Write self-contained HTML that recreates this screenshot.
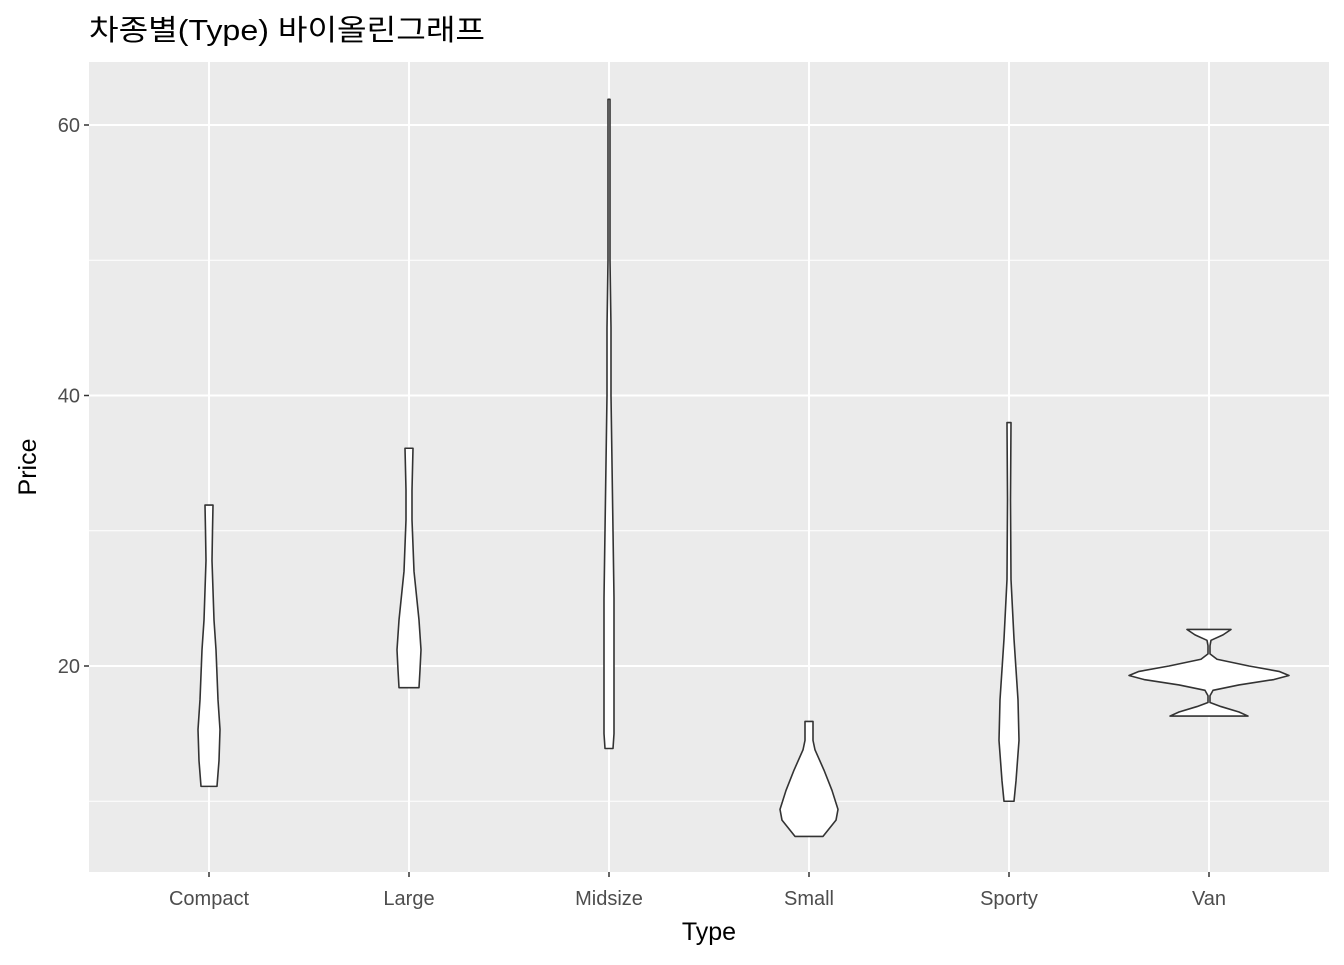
<!DOCTYPE html>
<html><head><meta charset="utf-8"><style>
body{margin:0;background:#fff}
svg text{font-family:"Liberation Sans","Noto Sans CJK KR",sans-serif}
</style></head><body>
<svg id="c" width="1344" height="960" xmlns="http://www.w3.org/2000/svg"></svg>
<script>
const categories=["Compact","Large","Midsize","Small","Sporty","Van"];
const yTicks=[20,40,60];
// [price, half-width in density units (px)]
const compact=[[31.9,4],[30,3.5],[27.8,3],[23.4,5],[21.2,7],[17.5,9],[15.3,11],[13,10],[11.1,8]];
const large=[[36.1,4],[33,3],[30.8,3],[27,5],[23.4,10],[21.2,12],[19.7,11],[18.4,10]];
const midsize=[[61.9,1],[50,1],[45,2],[40,2],[35,3],[30,4],[25,5],[20,5],[15,5],[13.9,4]];
const small=[[15.9,4],[14.5,4],[13.8,6],[12.3,15],[10.8,23],[9.4,29],[8.6,27],[7.4,14]];
const sporty=[[38,2],[32.3,1.5],[26.4,2],[22,5],[17.5,9],[14.5,10],[11.5,7],[10,5]];
const van=[[22.7,22],[22.3,14],[21.9,2],[21.5,1],[20.9,1],[20.5,8],[20,40],[19.6,70],[19.3,80],[19,65],[18.6,30],[18.2,4],[17.8,1],[17.3,1],[17,12],[16.6,30],[16.3,39]];
const series=[compact,large,midsize,small,sporty,van];
const L=89,R=1329,T=62,B=872;
const y=v=>936.5-v*13.525;
const x=i=>209+i*200;
const NS="http://www.w3.org/2000/svg";
const svg=document.getElementById('c');
function mk(t,a,p){const e=document.createElementNS(NS,t);for(const k in a)e.setAttribute(k,a[k]);(p||svg).appendChild(e);return e;}
const bg=mk('rect',{x:L,y:T,width:R-L,height:B-T,fill:'#ebebeb'});


[10,30,50].forEach(v=>{const g=mk('line',{x1:L,x2:R,y1:y(v),y2:y(v),stroke:'#fff','stroke-width':1});

});
yTicks.forEach(v=>{const g=mk('line',{x1:L,x2:R,y1:y(v),y2:y(v),stroke:'#fff','stroke-width':2});


const tk=mk('line',{x1:L-5,x2:L,y1:y(v),y2:y(v),stroke:'#333','stroke-width':1.5});


const t=mk('text',{x:L-9,y:y(v)+7,'text-anchor':'end','font-size':20,fill:'#4d4d4d'});t.textContent=v;

});
categories.forEach((c,i)=>{const g=mk('line',{x1:x(i),x2:x(i),y1:T,y2:B,stroke:'#fff','stroke-width':2});


const tk=mk('line',{x1:x(i),x2:x(i),y1:B,y2:B+5,stroke:'#333','stroke-width':1.5});


const t=mk('text',{x:x(i),y:905,'text-anchor':'middle','font-size':20,fill:'#4d4d4d'});t.textContent=c;

});
series.forEach((s,i)=>{const cx=x(i);
let pts=s.map(p=>[cx+p[1],y(p[0])]).concat(s.slice().reverse().map(p=>[cx-p[1],y(p[0])]));
const v=mk('polygon',{points:pts.map(p=>p.join(',')).join(' '),fill:'#fff',stroke:'#333','stroke-width':1.6,'stroke-linejoin':'round'});

});
const tt=mk('text',{x:89,y:40,'font-size':29,fill:'#000',textLength:396,lengthAdjust:'spacingAndGlyphs'});tt.textContent='차종별(Type) 바이올린그래프';


const xt=mk('text',{x:709,y:940,'text-anchor':'middle','font-size':25,fill:'#000'});xt.textContent='Type';


const yt=mk('text',{x:36,y:467,'text-anchor':'middle','font-size':25,fill:'#000',transform:'rotate(-90 36 467)'});yt.textContent='Price';


</script>
</body></html>
